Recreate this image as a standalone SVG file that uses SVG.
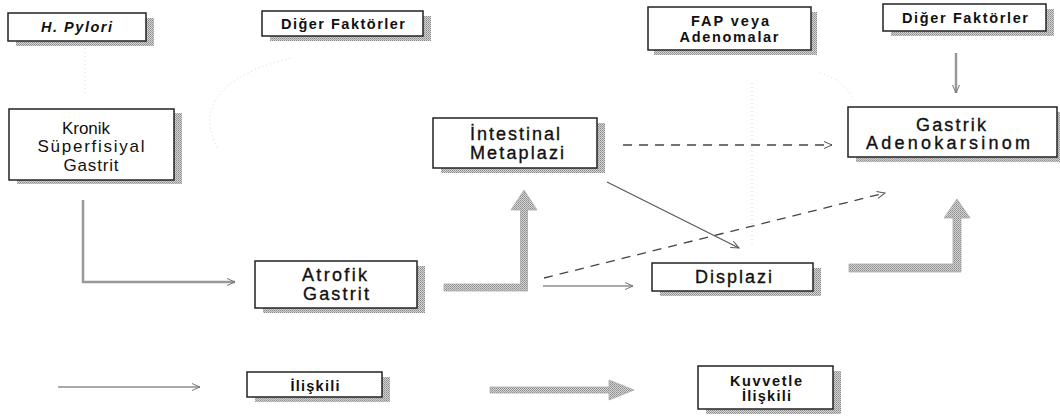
<svg xmlns="http://www.w3.org/2000/svg" width="1060" height="419" viewBox="0 0 1060 419">
<defs>
<pattern id="stip" width="2" height="2" patternUnits="userSpaceOnUse">
<rect width="2" height="2" fill="#d4d4d4"/>
<rect width="1" height="1" fill="#8a8a8a"/>
<rect x="1" y="1" width="1" height="1" fill="#a0a0a0"/>
</pattern>
<marker id="ah" markerWidth="10" markerHeight="8" refX="9" refY="4" orient="auto" markerUnits="userSpaceOnUse">
<path d="M1,0.5 L9,4 L1,7.5" fill="none" stroke="#777" stroke-width="1"/>
</marker>
<marker id="ahd" markerWidth="10" markerHeight="8" refX="9" refY="4" orient="auto" markerUnits="userSpaceOnUse">
<path d="M1,0.5 L9,4 L1,7.5" fill="none" stroke="#555" stroke-width="1"/>
</marker>
</defs>
<style>
.box{fill:#fff;stroke:#222;stroke-width:1.5}
.sh{fill:url(#stip)}
.t{font-family:"Liberation Sans",Arial,sans-serif;fill:#111;text-anchor:middle}
.b{font-weight:bold;font-size:14.5px}
.r{font-size:18px}
.k{font-size:17px}
.m{stroke:#111;stroke-width:0.35}
.thin{fill:none;stroke:#555;stroke-width:1.2}
.dash{fill:none;stroke:#444;stroke-width:1.3;stroke-dasharray:9 7}
.gl{fill:none;stroke:#999;stroke-width:2.5}
.faint{fill:none;stroke:#d8d8d8;stroke-width:1;stroke-dasharray:1 3}
.thick{fill:url(#stip);stroke:#aaa;stroke-width:0.8}
</style>
<rect width="1060" height="419" fill="#fff"/>

<g id="connectors">
<path class="faint" d="M85,48 L85,95"/>
<path class="faint" d="M290,58 Q185,85 218,150"/>
<path class="faint" d="M752,83 L752,245"/>
<path class="faint" d="M820,73 Q845,80 853,100"/>
<path class="gl" d="M83,200 L83,282 L235,282" marker-end="url(#ah)"/>
<path class="gl" d="M956,53 L956,93" stroke-width="2" marker-end="url(#ah)"/>
<path class="thin" d="M543,286 L633,286" marker-end="url(#ah)"/>
<path class="thin" d="M607,182 L739,248" marker-end="url(#ahd)"/>
<path class="dash" d="M544,278 L885,193" marker-end="url(#ahd)"/>
<path class="dash" d="M623,145 L832,145" marker-end="url(#ahd)"/>
<polygon class="thick" points="444,284 520.5,284 520.5,210 511,210 524,190 537,210 527.5,210 527.5,291 444,291"/>
<polygon class="thick" points="849,264 953,264 953,218 944,218 957,199 970,218 961,218 961,272 849,272"/>
<path class="thin" d="M58,387 L200,387" marker-end="url(#ah)"/>
<polygon class="thick" points="490,387 609,387 609,380 634,390 609,400 609,393 490,393"/>
</g>

<g id="hpylori">
<rect class="sh" x="16" y="18" width="138" height="28"/>
<rect class="box" x="8" y="13" width="138" height="28"/>
<text class="t b" x="76.5" y="32" font-style="italic" textLength="71" lengthAdjust="spacing">H. Pylori</text>
</g>

<g id="diger1">
<rect class="sh" x="270" y="16" width="161" height="25"/>
<rect class="box" x="262" y="11" width="161" height="25"/>
<text class="t b" x="343" y="28.5" textLength="124" lengthAdjust="spacing">Diğer Faktörler</text>
</g>

<g id="fap">
<rect class="sh" x="654" y="12" width="163" height="43"/>
<rect class="box" x="648" y="7" width="163" height="43"/>
<text class="t b" x="730" y="26" textLength="78" lengthAdjust="spacing">FAP veya</text>
<text class="t b" x="729" y="42" textLength="99" lengthAdjust="spacing">Adenomalar</text>
</g>

<g id="diger2">
<rect class="sh" x="891" y="9" width="163" height="27"/>
<rect class="box" x="883" y="4" width="163" height="27"/>
<text class="t b" x="965" y="23" textLength="126" lengthAdjust="spacing">Diğer Faktörler</text>
</g>

<g id="kronik">
<rect class="sh" x="17" y="113" width="165" height="71"/>
<rect class="box" x="9" y="109" width="165" height="71"/>
<text class="t k" x="86" y="134">Kronik</text>
<text class="t k" x="91" y="152" textLength="107" lengthAdjust="spacing">Süperfisiyal</text>
<text class="t k" x="91" y="171" textLength="55" lengthAdjust="spacing">Gastrit</text>
</g>

<g id="intestinal">
<rect class="sh" x="441" y="123" width="164" height="50"/>
<rect class="box" x="433" y="118" width="164" height="50"/>
<text class="t r m" x="515" y="140" textLength="90" lengthAdjust="spacing">İntestinal</text>
<text class="t r m" x="517" y="159" textLength="94" lengthAdjust="spacing">Metaplazi</text>
</g>

<g id="gastrik">
<rect class="sh" x="856" y="112" width="209" height="50"/>
<rect class="box" x="848" y="107" width="209" height="50"/>
<text class="t r m" x="951" y="131" textLength="70" lengthAdjust="spacing">Gastrik</text>
<text class="t r m" x="948" y="149" textLength="164" lengthAdjust="spacing">Adenokarsinom</text>
</g>

<g id="atrofik">
<rect class="sh" x="263" y="266" width="162" height="47"/>
<rect class="box" x="255" y="261" width="162" height="47"/>
<text class="t r m" x="334.5" y="281" textLength="65" lengthAdjust="spacing">Atrofik</text>
<text class="t r m" x="336" y="300" textLength="66" lengthAdjust="spacing">Gastrit</text>
</g>

<g id="displazi">
<rect class="sh" x="660" y="268" width="161" height="28"/>
<rect class="box" x="652" y="263" width="161" height="28"/>
<text class="t r m" x="733.5" y="283" textLength="77" lengthAdjust="spacing">Displazi</text>
</g>

<g id="iliskili">
<rect class="sh" x="255" y="377" width="135" height="25"/>
<rect class="box" x="247" y="372" width="135" height="25"/>
<text class="t b" x="315" y="391" textLength="49" lengthAdjust="spacing">İlişkili</text>
</g>

<g id="kuvvetle">
<rect class="sh" x="706" y="371" width="135" height="43"/>
<rect class="box" x="698" y="366" width="135" height="43"/>
<text class="t b" x="766" y="386" textLength="72" lengthAdjust="spacing">Kuvvetle</text>
<text class="t b" x="766.5" y="401" textLength="49" lengthAdjust="spacing">İlişkili</text>
</g>
</svg>
